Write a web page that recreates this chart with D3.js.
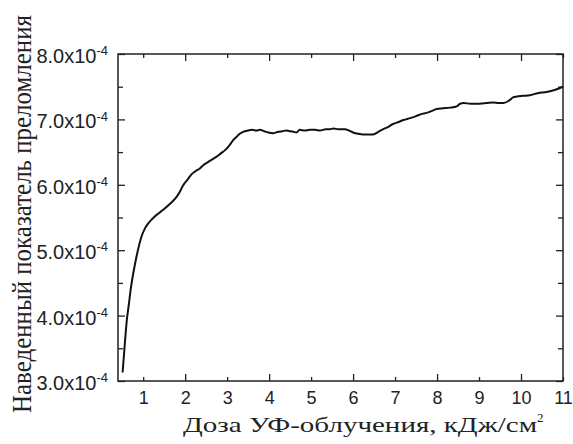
<!DOCTYPE html>
<html>
<head>
<meta charset="utf-8">
<script src="https://cdn.jsdelivr.net/npm/d3@7"></script>
<style>
  body { margin: 0; background: #fff; }
  svg { display: block; }
</style>
</head>
<body>
<svg id="chart" width="573" height="444"></svg>
<script>
// dose, kJ/cm^2
const doseValues = [
  0.51, 0.56, 0.61, 0.66, 0.70, 0.77, 0.84, 0.90, 0.96, 1.04,
  1.12, 1.22, 1.32, 1.42, 1.52, 1.62, 1.72, 1.80, 1.87, 1.95,
  2.07, 2.15, 2.25, 2.35, 2.43, 2.55, 2.65, 2.75, 2.85, 2.95,
  3.05, 3.14, 3.22, 3.30, 3.38, 3.50, 3.60, 3.70, 3.78, 3.88,
  3.98, 4.10, 4.22, 4.32, 4.41, 4.50, 4.58, 4.65, 4.73, 4.85,
  4.97, 5.10, 5.21, 5.35, 5.45, 5.53, 5.65, 5.81, 5.90, 6.00,
  6.12, 6.24, 6.36, 6.48, 6.60, 6.72, 6.85, 6.95, 7.04, 7.20,
  7.36, 7.50, 7.62, 7.75, 7.88, 7.99, 8.15, 8.31, 8.47, 8.55,
  8.63, 8.80, 9.02, 9.18, 9.34, 9.47, 9.58, 9.72, 9.82, 9.90,
  10.05, 10.21, 10.40, 10.61, 10.80, 11.0
]
// induced refractive index, units of 1e-4
const indexValues = [
  3.13, 3.55, 3.93, 4.18, 4.39, 4.67, 4.90, 5.07, 5.21, 5.33,
  5.41, 5.48, 5.54, 5.59, 5.64, 5.70, 5.76, 5.82, 5.89, 5.99,
  6.09, 6.16, 6.21, 6.25, 6.30, 6.35, 6.39, 6.43, 6.48, 6.53,
  6.60, 6.68, 6.73, 6.78, 6.81, 6.83, 6.84, 6.83, 6.84, 6.82,
  6.80, 6.79, 6.81, 6.82, 6.83, 6.82, 6.81, 6.80, 6.84, 6.83,
  6.84, 6.84, 6.83, 6.85, 6.85, 6.86, 6.85, 6.85, 6.83, 6.80,
  6.78, 6.77, 6.77, 6.77, 6.81, 6.85, 6.89, 6.93, 6.95, 6.99,
  7.02, 7.05, 7.08, 7.10, 7.13, 7.16, 7.17, 7.18, 7.20, 7.24,
  7.25, 7.24, 7.24, 7.25, 7.26, 7.25, 7.25, 7.29, 7.34, 7.35,
  7.36, 7.37, 7.40, 7.42, 7.45, 7.50
]

const xMajorTicks = [2, 4, 6, 8, 10]
const xMinorTicks = [1, 3, 5, 7, 9, 11]
const xTickLabels = [1, 2, 3, 4, 5, 6, 7, 8, 9, 10, 11]
const yMajorTicks = [3, 4, 5, 6, 7, 8]
const yMinorTicks = [3.5, 4.5, 5.5, 6.5, 7.5]

const xTitle = 'Доза УФ-облучения, кДж/см'
const yTitle = 'Наведенный показатель преломления'

const width = 573
const height = 444
const margin = { top: 54, right: 10, bottom: 63, left: 118 }
const ink = '#222'

const svg = d3.select('#chart')

const x = d3.scaleLinear()
  .domain([0.4, 11])
  .range([margin.left, width - margin.right])

const y = d3.scaleLinear()
  .domain([3, 8])
  .range([height - margin.bottom, margin.top])

const plotBottom = height - margin.bottom
const plotRight = width - margin.right

// inward ticks on all four sides
function tickAxis (axisFn, scale, values, size, translate) {
  const g = svg.append('g')
    .attr('transform', translate)
    .call(axisFn(scale).tickValues(values).tickSize(-size).tickFormat(''))
  g.select('.domain').remove()
  g.selectAll('line').attr('stroke', ink).attr('stroke-width', 1.3)
}

tickAxis(d3.axisBottom, x, xMajorTicks, 7, `translate(0,${plotBottom})`)
tickAxis(d3.axisBottom, x, xMinorTicks, 4, `translate(0,${plotBottom})`)
tickAxis(d3.axisTop, x, xMajorTicks, 7, `translate(0,${margin.top})`)
tickAxis(d3.axisTop, x, xMinorTicks, 4, `translate(0,${margin.top})`)
tickAxis(d3.axisLeft, y, yMajorTicks, 7, `translate(${margin.left},0)`)
tickAxis(d3.axisLeft, y, yMinorTicks, 5, `translate(${margin.left},0)`)
tickAxis(d3.axisRight, y, yMajorTicks, 7, `translate(${plotRight},0)`)
tickAxis(d3.axisRight, y, yMinorTicks, 5, `translate(${plotRight},0)`)

// x tick labels
const xLabels = svg.append('g')
  .attr('transform', `translate(0,${plotBottom})`)
  .call(d3.axisBottom(x).tickValues(xTickLabels).tickSize(0).tickPadding(10).tickFormat(d3.format('d')))
xLabels.select('.domain').remove()
xLabels.selectAll('text')
  .attr('fill', ink)
  .style('font-family', '"Liberation Sans", Arial, sans-serif')
  .style('font-size', '18px')

// y tick labels with superscript exponent
const yLabels = svg.append('g')
  .attr('transform', `translate(${margin.left},0)`)
  .call(d3.axisLeft(y).tickValues(yMajorTicks).tickSize(0).tickPadding(10).tickFormat(''))
yLabels.select('.domain').remove()
yLabels.selectAll('text')
  .attr('fill', ink)
  .attr('dy', '0.42em')
  .style('font-family', '"Liberation Sans", Arial, sans-serif')
  .style('font-size', '20px')
  .each(function (d) {
    const t = d3.select(this)
    t.append('tspan').text(d3.format('.1f')(d) + 'x10')
    t.append('tspan')
      .attr('dy', '-0.6em')
      .style('font-size', '13px')
      .text('-4')
  })

// frame
svg.append('rect')
  .attr('x', margin.left)
  .attr('y', margin.top)
  .attr('width', plotRight - margin.left)
  .attr('height', plotBottom - margin.top)
  .attr('fill', 'none')
  .attr('stroke', ink)
  .attr('stroke-width', 1.5)

// data line
const points = d3.zip(doseValues, indexValues)
svg.append('path')
  .datum(points)
  .attr('fill', 'none')
  .attr('stroke', '#111')
  .attr('stroke-width', 2)
  .attr('stroke-linejoin', 'round')
  .attr('d', d3.line()
    .x(d => x(d[0]))
    .y(d => y(d[1]))
    .curve(d3.curveMonotoneX))

// axis titles
const xt = svg.append('text')
  .attr('x', 183)
  .attr('y', 432)
  .attr('fill', ink)
  .style('font-family', '"Liberation Serif", "Times New Roman", serif')
  .style('font-size', '21px')
xt.append('tspan')
  .attr('textLength', 354)
  .attr('lengthAdjust', 'spacingAndGlyphs')
  .text(xTitle)
xt.append('tspan')
  .attr('dy', '-0.75em')
  .style('font-size', '13px')
  .text('2')

svg.append('text')
  .attr('transform', 'translate(31,214) scale(1.2,1) rotate(-90)')
  .attr('text-anchor', 'middle')
  .attr('fill', ink)
  .attr('textLength', 398)
  .attr('lengthAdjust', 'spacingAndGlyphs')
  .style('font-family', '"Liberation Serif", "Times New Roman", serif')
  .style('font-size', '23px')
  .text(yTitle)
</script>
</body>
</html>
